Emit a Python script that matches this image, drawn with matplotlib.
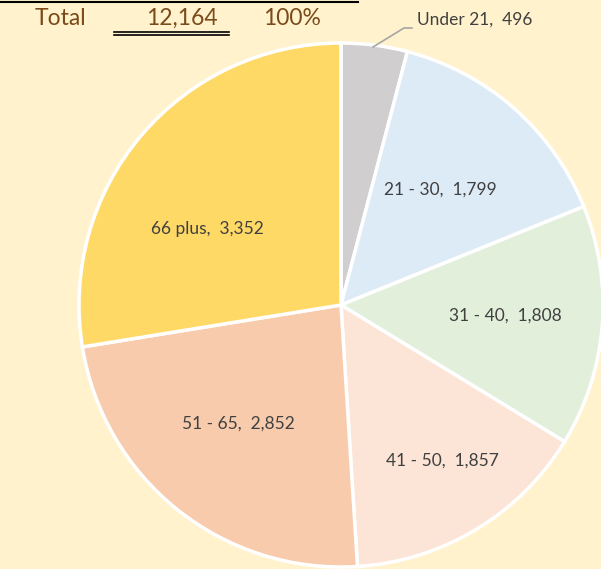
import matplotlib
matplotlib.use("Agg")
import matplotlib.pyplot as plt
from matplotlib.lines import Line2D

categories = ["Under 21", "21 - 30", "31 - 40", "41 - 50", "51 - 65", "66 plus"]
values = [496, 1799, 1808, 1857, 2852, 3352]
colors = ["#D0CECE", "#DDEBF7", "#E2EFDA", "#FCE4D6", "#F8CBAD", "#FFD966"]
total_label = "Total"
total_value = "12,164"
total_pct = "100%"

W, H = 601, 569
fig = plt.figure(figsize=(W / 100, H / 100), dpi=100)
fig.patch.set_facecolor("#FFF2CC")
ax = fig.add_axes([0, 0, 1, 1])
ax.set_facecolor("#FFF2CC")

cx, cy, r = 341, H - 305, 262
wedges, _ = ax.pie(values, colors=colors, startangle=90, counterclock=False,
                   center=(cx, cy), radius=r, frame=True,
                   wedgeprops=dict(edgecolor="white", linewidth=2.5))
ax.set_xlim(0, W)
ax.set_ylim(0, H)
ax.axis("off")

font = "Lato"
lab_color = "#404040"
lab_size = 12.5
label_pos = [None, (440, 190), (505, 316), (442, 461), (238, 424), (207, 229)]
for cat, val, pos in zip(categories, values, label_pos):
    if pos is None:
        continue
    ax.text(pos[0], H - pos[1], f"{cat},  {val:,}", ha="center", va="center",
            fontsize=lab_size, color=lab_color, family=font)

# Under 21 outside label with leader
ax.text(417, H - 20, f"{categories[0]},  {values[0]:,}", ha="left", va="center",
        fontsize=lab_size, color=lab_color, family=font)
ax.add_line(Line2D([373, 404, 412], [H - 47, H - 28, H - 28], color="#A6A6A6", lw=1.2))

# top summary row
brown = "#7B4A1A"
ax.add_line(Line2D([0, 358], [H - 1.5, H - 1.5], color="black", lw=1.5))
ax.text(35, H - 18, total_label, ha="left", va="center", fontsize=16.5, color=brown, family=font)
ax.text(182, H - 18, total_value, ha="center", va="center", fontsize=16.5, color=brown, family=font)
ax.text(292, H - 18, total_pct, ha="center", va="center", fontsize=16.5, color=brown, family=font)
ax.add_line(Line2D([114, 229], [H - 31.5, H - 31.5], color="black", lw=1.2))
ax.add_line(Line2D([114, 229], [H - 35, H - 35], color="black", lw=1.2))

fig.savefig("out.png", dpi=100, facecolor=fig.get_facecolor())
